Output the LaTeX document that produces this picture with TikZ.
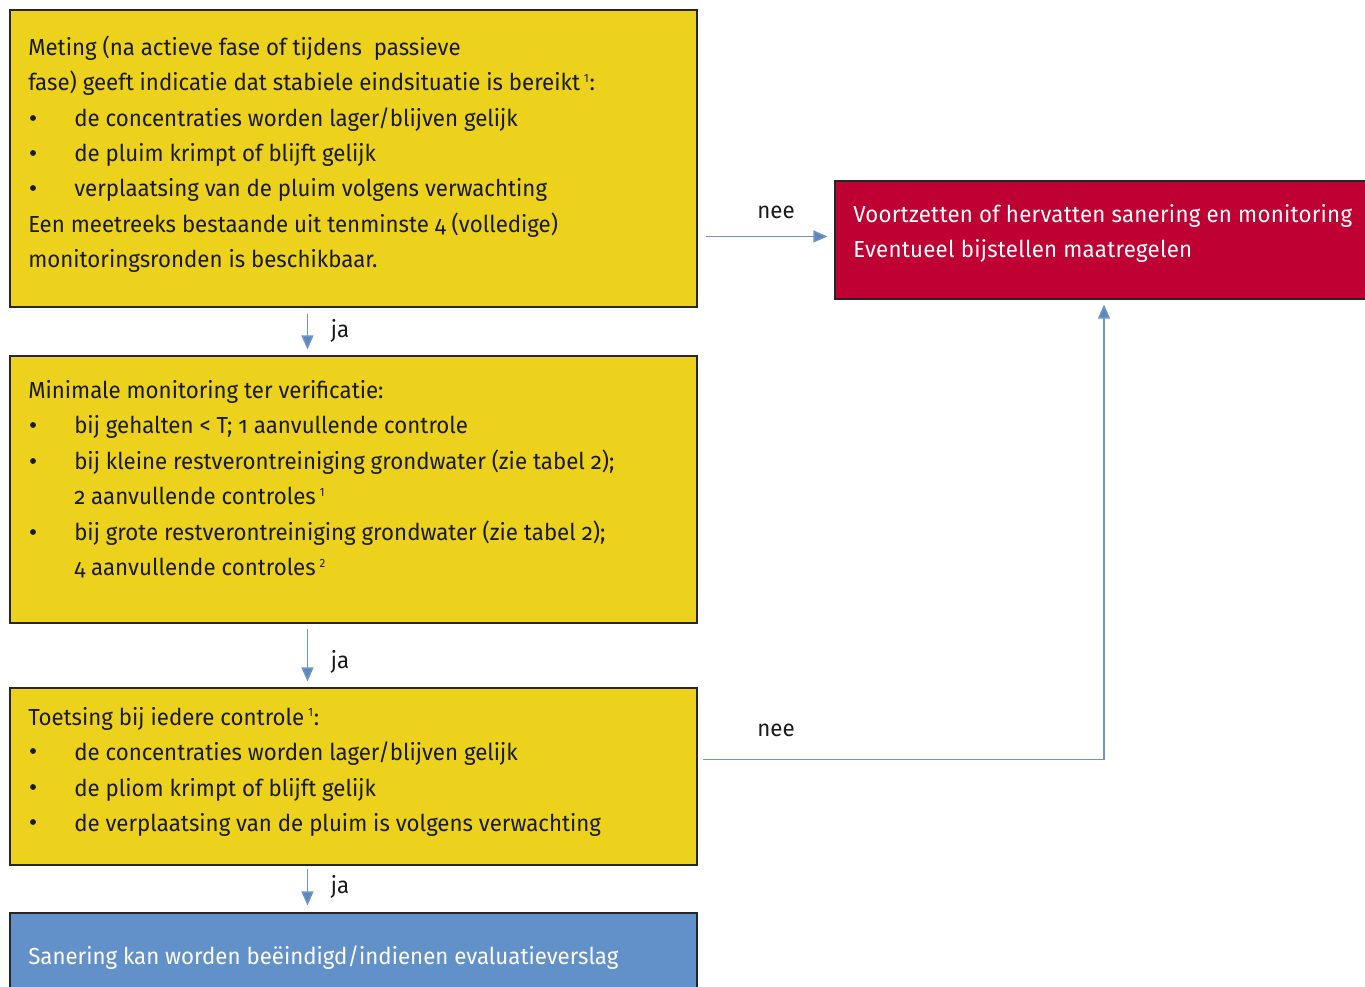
\documentclass[tikz,border=0pt]{standalone}
\usepackage{fontspec}
\setmainfont[Numbers=OldStyle,FakeStretch=0.96]{Fira Sans}
\usetikzlibrary{arrows.meta,calc,fit}
\definecolor{ybox}{HTML}{ECD21C}
\definecolor{rbox}{HTML}{BE0032}
\definecolor{bbox}{HTML}{6290C8}
\definecolor{arrline}{HTML}{6A96CD}
\definecolor{txt}{HTML}{1A1A1A}
\newcommand{\fnm}[1]{\,\textsuperscript{\addfontfeature{Numbers=Lining}\fontsize{9}{9}\selectfont #1}}
\newcommand{\txtfont}{\fontsize{17.4}{19}\selectfont}
\tikzset{
  boxbase/.style={draw=black!85, line width=0.8pt, inner sep=0pt},
  yellowbox/.style={boxbase, fill=ybox},
  redbox/.style={boxbase, fill=rbox},
  bluebox/.style={boxbase, fill=bbox},
  line/.style={anchor=base west, inner sep=0pt, font=\txtfont, text=txt},
  wline/.style={line, text=white},
  rline/.style={wline, font=\txtfont\addfontfeature{LetterSpace=1.1}},
  bul/.style={circle, fill=txt, inner sep=0pt, minimum size=4.4pt},
  lbl/.style={anchor=center, inner sep=0pt, font=\txtfont, text=txt},
  arr/.style={draw=arrline, line width=1pt, -{Triangle[length=10.5pt,width=9pt,fill=arrline!90!black]}},
}
\begin{document}
\begin{tikzpicture}[x=0.75pt,y=-0.75pt]
\useasboundingbox (0,0) rectangle (1365,987);
% boxes
\node[yellowbox, fit={(10,10)(697,307)}] (b1) {};
\node[yellowbox, fit={(10,356)(697,623)}] (b2) {};
\node[yellowbox, fit={(10,688)(697,865)}] (b3) {};
\node[bluebox, fit={(10,913)(697,1010)}] (b4) {};
\node[redbox, fit={(835,181)(1373,299)}] (red) {};
% box 1 text
\node[line] (t11) at (28,56) {Meting (na actieve fase of tijdens\ \ passieve};
\node[line] (t12) at (28,91) {fase) geeft indicatie dat stabiele eindsituatie is bereikt\fnm{1}:};
\node[bul] (u13) at (33,118) {};
\node[line] (t13) at (74,127) {de concentraties worden lager/blijven gelijk};
\node[bul] (u14) at (33,153) {};
\node[line] (t14) at (74,162) {de pluim krimpt of blijft gelijk};
\node[bul] (u15) at (33,188) {};
\node[line] (t15) at (74,197) {verplaatsing van de pluim volgens verwachting};
\node[line] (t16) at (28,233) {Een meetreeks bestaande uit tenminste 4 (volledige)};
\node[line] (t17) at (28,268) {monitoringsronden is beschikbaar.};
% box 2 text
\node[line] (t21) at (28,399) {Minimale monitoring ter verificatie:};
\node[bul] (u22) at (33,425) {};
\node[line] (t22) at (74,434) {bij gehalten < T; 1 aanvullende controle};
\node[bul] (u23) at (33,461) {};
\node[line] (t23) at (74,470) {bij kleine restverontreiniging grondwater (zie tabel 2);};
\node[line] (t24) at (74,505) {2 aanvullende controles\fnm{1}};
\node[bul] (u25) at (33,532) {};
\node[line] (t25) at (74,541) {bij grote restverontreiniging grondwater (zie tabel 2);};
\node[line] (t26) at (74,576) {4 aanvullende controles\fnm{2}};
% box 3 text
\node[line] (t31) at (28,725) {Toetsing bij iedere controle\fnm{1}:};
\node[bul] (u32) at (33,751) {};
\node[line] (t32) at (74,760) {de concentraties worden lager/blijven gelijk};
\node[bul] (u33) at (33,787) {};
\node[line] (t33) at (74,796) {de pliom krimpt of blijft gelijk};
\node[bul] (u34) at (33,822) {};
\node[line] (t34) at (74,831) {de verplaatsing van de pluim is volgens verwachting};
% box 4 text
\node[wline] (t41) at (28,964) {Sanering kan worden beëindigd/indienen evaluatieverslag};
% red text
\node[rline] (r1) at (853,223) {Voortzetten of hervatten sanering en monitoring};
\node[rline] (r2) at (853,258) {Eventueel bijstellen maatregelen};
% connectors
\draw[arr] ($(b1.south west)+(298,6)$) coordinate (a1s) -- ($(b2.north west)+(298,-6)$) coordinate (a1e);
\draw[arr] ($(b2.south west)+(298,5)$) coordinate (a2s) -- ($(b3.north west)+(298,-6)$) coordinate (a2e);
\draw[arr] ($(b3.south west)+(298,3)$) coordinate (a3s) -- ($(b4.north west)+(298,-7)$) coordinate (a3e);
\draw[arr] ($(b1.north east)+(8,227)$) coordinate (n1s) -- ($(red.north west)+(-7,56)$) coordinate (n1e);
\draw[arr] ($(b3.north east)+(5,72)$) coordinate (n2s) -| ($(red.south)+(0,5)$) coordinate (n2e);
% labels
\node[lbl] (ja1) at (340,331) {ja};
\node[lbl] (ja2) at (340,662) {ja};
\node[lbl] (ja3) at (340,887) {ja};
\node[lbl] (nee1) at (776,212) {nee};
\node[lbl] (nee2) at (776,730) {nee};
\end{tikzpicture}
\end{document}
